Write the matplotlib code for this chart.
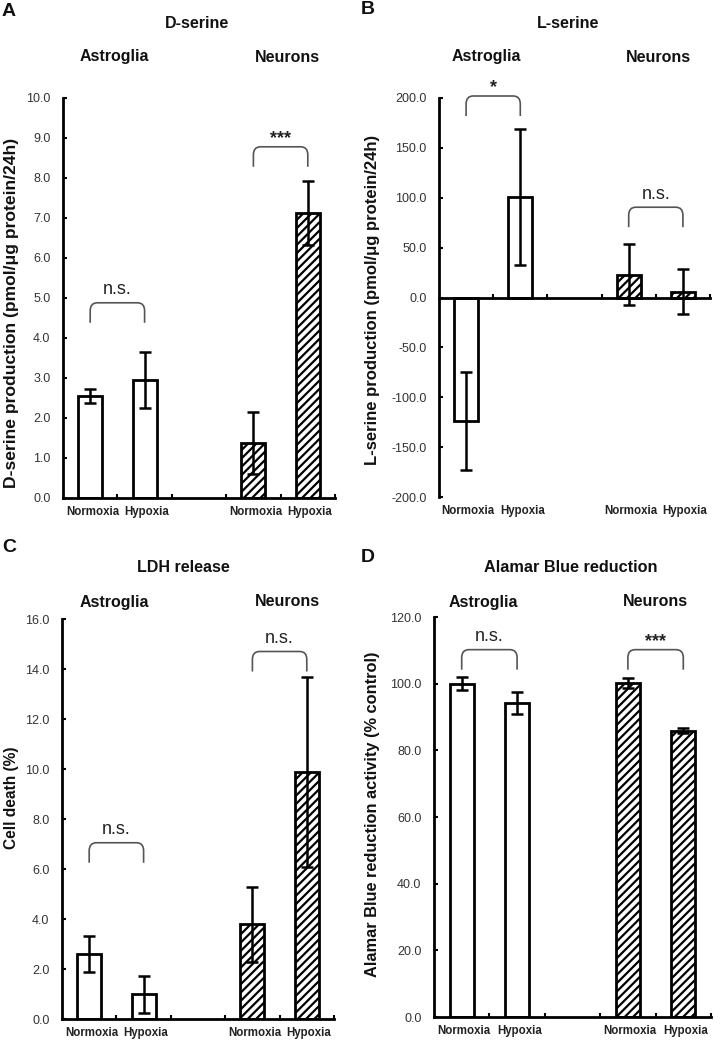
import matplotlib
matplotlib.use('Agg')
import matplotlib.pyplot as plt
from matplotlib.path import Path
from matplotlib.patches import PathPatch
import matplotlib.transforms as mtransforms
import numpy as np

plt.rcParams['font.family'] = ['Liberation Sans', 'DejaVu Sans']
plt.rcParams['hatch.linewidth'] = 1.6

# ---------------- data ----------------
groups = ['Astroglia', 'Neurons']
conditions = ['Normoxia', 'Hypoxia', 'Normoxia', 'Hypoxia']
positions = [0, 1, 3, 4]

dser_mean = [2.55, 2.95, 1.37, 7.13]
dser_err = [0.18, 0.70, 0.77, 0.80]
lser_mean = [-124.0, 101.0, 23.0, 6.0]
lser_err = [49.0, 68.0, 31.0, 22.5]
ldh_mean = [2.6, 1.0, 3.8, 9.9]
ldh_err = [0.72, 0.74, 1.5, 3.8]
alamar_mean = [100.0, 94.2, 100.2, 85.9]
alamar_err = [2.0, 3.3, 1.4, 0.8]

dser_sig = ['n.s.', '***']
lser_sig = ['*', 'n.s.']
ldh_sig = ['n.s.', 'n.s.']
alamar_sig = ['n.s.', '***']

# bracket top levels (data units) for astroglia / neurons
dser_br = [4.88, 8.78]
lser_br = [202.0, 90.5]
ldh_br = [7.05, 14.7]
alamar_br = [110.2, 110.2]

W, H = 726, 1050
fig = plt.figure(figsize=(W / 100, H / 100), dpi=100)


def ax_px(l, t, r, b):
    return fig.add_axes([l / W, 1 - b / H, (r - l) / W, (b - t) / H])


def bracket(ax, x1, x2, top, label, yr):
    depth = 0.05 * yr
    dy = 0.02 * yr
    dx = 0.13
    verts = [(x1, top - depth), (x1, top - dy), (x1, top), (x1 + dx, top),
             (x2 - dx, top), (x2, top), (x2, top - dy), (x2, top - depth)]
    codes = [Path.MOVETO, Path.LINETO, Path.CURVE3, Path.CURVE3,
             Path.LINETO, Path.CURVE3, Path.CURVE3, Path.LINETO]
    ax.add_patch(PathPatch(Path(verts, codes), fill=False, edgecolor='#555555',
                           linewidth=1.2, zorder=4, clip_on=False))
    if label.startswith('*'):
        ax.text((x1 + x2) / 2, top + 0.02 * yr, label, ha='center', va='center',
                fontsize=13, fontweight='bold', color='#222222')
    else:
        ax.text((x1 + x2) / 2, top + 0.032 * yr, label, ha='center', va='center',
                fontsize=13, color='#222222')


def panel(ax, means, errs, ylim, ystep, sig, tops, zero_axis=False):
    for i, (p, m) in enumerate(zip(positions, means)):
        ax.bar(p, m, width=0.44, color='white', edgecolor='black', linewidth=2,
               hatch=None if i < 2 else '////', zorder=2)
    ax.errorbar(positions, means, yerr=errs, fmt='none', ecolor='black',
                elinewidth=1.8, capsize=4, capthick=1.8, zorder=3)
    ax.set_xlim(-0.5, 4.5)
    ax.set_ylim(*ylim)
    yt = np.arange(ylim[0], ylim[1] + ystep / 2, ystep)
    ax.set_yticks(yt)
    ax.set_yticklabels([f'{v:.1f}' for v in yt])
    ax.set_xticks([0.5, 1.5, 2.5, 3.5, 4.5])
    ax.tick_params(axis='x', direction='in', length=3, width=1.5, labelbottom=False)
    ax.tick_params(axis='y', direction='in', length=3, width=1.5, labelsize=9,
                   labelcolor='#333333', pad=9)
    for s in ['top', 'right']:
        ax.spines[s].set_visible(False)
    for s in ['left', 'bottom']:
        ax.spines[s].set_linewidth(2)
    if zero_axis:
        ax.spines['bottom'].set_position(('data', 0))
    trans = mtransforms.blended_transform_factory(ax.transData, ax.transAxes)
    for p, c in zip(positions, conditions):
        ax.text(p + 0.04, -0.035, c, transform=trans, ha='center', va='center',
                fontsize=8.3, fontweight='bold', color='#222222')
    yr = ylim[1] - ylim[0]
    bracket(ax, positions[0], positions[1], tops[0], sig[0], yr)
    bracket(ax, positions[2], positions[3], tops[1], sig[1], yr)


axA = ax_px(63, 98, 335, 498)
panel(axA, dser_mean, dser_err, (0, 10), 1.0, dser_sig, dser_br)
axB = ax_px(439, 98, 710, 497)
panel(axB, lser_mean, lser_err, (-200, 200), 50.0, lser_sig, lser_br, zero_axis=True)
axC = ax_px(62, 619, 334, 1019)
panel(axC, ldh_mean, ldh_err, (0, 16), 2.0, ldh_sig, ldh_br)
axD = ax_px(434, 617, 711, 1017)
panel(axD, alamar_mean, alamar_err, (0, 120), 20.0, alamar_sig, alamar_br)


def ftext(x, y, s, **kw):
    fig.text(x / W, 1 - y / H, s, ha='center', va='center', color='#111111', **kw)


# panel letters
for (x, y, s) in [(9, 12, 'A'), (368, 10, 'B'), (9, 547, 'C'), (368, 557, 'D')]:
    ftext(x, y, s, fontsize=14, fontweight='bold')

# titles
ftext(197, 23, 'D-serine', fontsize=11.5, fontweight='bold')
ftext(568, 23, 'L-serine', fontsize=11.5, fontweight='bold')
ftext(183, 568, 'LDH release', fontsize=11.5, fontweight='bold')
ftext(571, 568, 'Alamar Blue reduction', fontsize=11.7, fontweight='bold')

# group labels
for (xa, xn, y) in [(114, 287, 57), (486, 658, 57), (114, 287, 602), (483, 655, 602)]:
    ftext(xa, y, groups[0], fontsize=11.5, fontweight='bold')
    ftext(xn, y, groups[1], fontsize=11.5, fontweight='bold')

# y labels
ftext(12, 313, 'D-serine production (pmol/μg protein/24h)', fontsize=12.6,
      fontweight='bold', rotation=90)
ftext(373, 300, 'L-serine production (pmol/μg protein/24h)', fontsize=12,
      fontweight='bold', rotation=90)
ftext(12, 798, 'Cell death (%)', fontsize=11.2, fontweight='bold', rotation=90)
ftext(373, 814, 'Alamar Blue reduction activity (% control)', fontsize=11.8,
      fontweight='bold', rotation=90)

fig.savefig('out.png', dpi=100)
